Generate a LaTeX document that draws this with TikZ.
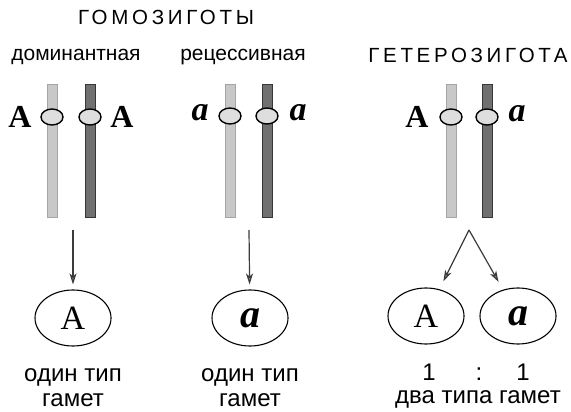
\documentclass[tikz,border=0pt]{standalone}
\usepackage{fontspec}
\setmainfont{Liberation Sans}
\newfontfamily\allelefont{Liberation Serif}
\usepackage{tikz}
\usetikzlibrary{
  arrows.meta,
  positioning,
  shapes.geometric
}
\definecolor{barlight}{RGB}{200,200,200}
\definecolor{barlightedge}{RGB}{165,165,165}
\definecolor{bardark}{RGB}{112,112,112}
\definecolor{bardarkedge}{RGB}{55,55,55}
\definecolor{arrowgray}{RGB}{60,60,60}
\tikzset{
  geneBarLight/.style={
    rectangle,
    draw=barlightedge,
    fill=barlight,
    line width=1pt,
    minimum width=10pt,
    minimum height=132pt,
    inner sep=0pt
  },
  geneBarDark/.style={
    rectangle,
    draw=bardarkedge,
    fill=bardark,
    line width=1pt,
    minimum width=10pt,
    minimum height=132pt,
    inner sep=0pt
  },
  geneLocus/.style={
    ellipse,
    draw=black,
    fill=black!13,
    line width=1.4pt,
    minimum width=22pt,
    minimum height=16pt,
    inner sep=0pt
  },
  alleleBig/.style={
    font=\allelefont\fontsize{32}{32}\selectfont\bfseries,
    inner sep=0pt
  },
  alleleSmall/.style={
    font=\allelefont\fontsize{34}{34}\selectfont\bfseries\itshape,
    inner sep=0pt
  },
  gamete/.style={
    ellipse,
    draw=black,
    line width=1.1pt,
    minimum width=76pt,
    minimum height=56pt,
    inner sep=0pt,
    font=\allelefont\fontsize{34}{34}\selectfont
  },
  gameteSmall/.style={
    gamete,
    font=\allelefont\fontsize{40}{40}\selectfont\bfseries\itshape
  },
  headText/.style={
    font=\fontsize{20.5}{22}\selectfont\addfontfeature{LetterSpace=18},
    inner sep=0pt
  },
  typeText/.style={
    font=\fontsize{21}{24}\selectfont,
    inner sep=0pt
  },
  noteText/.style={
    font=\fontsize{24}{25}\selectfont,
    anchor=base,
    inner sep=0pt
  },
  gameteArrow/.style={
    -{Stealth[length=11pt,width=7pt,inset=3pt,fill=black!45]},
    line width=1.2pt,
    draw=arrowgray
  }
}

\begin{document}
\begin{tikzpicture}[x=1pt,y=-1pt]
  \useasboundingbox (0,0) rectangle (571,412);

  % headings
  \node[headText] (homo) at (166,17) {ГОМОЗИГОТЫ};
  \node[typeText] (dom) at (76,57) {доминантная};
  \node[typeText] (rec) at (243,57) {рецессивная};
  \node[headText] (hetero) at (468,55) {ГЕТЕРОЗИГОТА};

  % dominant pair
  \node[geneBarLight] (domL) at (52,151) {};
  \node[geneBarDark] (domD) at (90,151) {};
  \node[geneLocus] (domLocL) at (52,117) {};
  \node[geneLocus] (domLocD) at (90,117) {};
  \node[alleleBig] (domAL) at (20,117) {A};
  \node[alleleBig] (domAR) at (122,117) {A};

  % recessive pair
  \node[geneBarLight] (recL) at (230,151) {};
  \node[geneBarDark] (recD) at (267,151) {};
  \node[geneLocus] (recLocL) at (230,116) {};
  \node[geneLocus] (recLocD) at (267,116) {};
  \node[alleleSmall] (recAL) at (200,113) {a};
  \node[alleleSmall] (recAR) at (298,113) {a};

  % hetero pair
  \node[geneBarLight] (hetL) at (451,151) {};
  \node[geneBarDark] (hetD) at (487,151) {};
  \node[geneLocus] (hetLocL) at (451,117) {};
  \node[geneLocus] (hetLocD) at (487,117) {};
  \node[alleleBig] (hetA) at (417,117) {A};
  \node[alleleSmall] (hetB) at (517,114) {a};

  % gametes
  \node[gamete] (gamDom) at (73,318) {A};
  \node[gameteSmall] (gamRec) at (250,318) {a};
  \node[gamete] (gamHetA) at (426,316) {A};
  \node[gameteSmall] (gamHetB) at (518,316) {a};

  \coordinate (forkDom) at (73,230);
  \coordinate (forkRec) at (249,230);
  \coordinate (forkHet) at (469,230);

  \draw[gameteArrow, shorten >=5pt] (forkDom) -- (gamDom);
  \draw[gameteArrow, shorten >=5pt] (forkRec) -- (gamRec);
  \draw[gameteArrow, shorten >=9pt] (forkHet) -- (gamHetA);
  \draw[gameteArrow, shorten >=9pt] (forkHet) -- (gamHetB);

  % captions
  \node[noteText] (capDom) at (73,381) {один тип};
  \node[noteText] (capDom2) at (73,406) {гамет};
  \node[noteText] (capRec) at (250,381) {один тип};
  \node[noteText] (capRec2) at (250,406) {гамет};
  \node[noteText] (ratioA) at (429,380) {1};
  \node[noteText] (ratioC) at (479,380) {:};
  \node[noteText] (ratioB) at (523,380) {1};
  \node[noteText] (capHet) at (478,403) {два типа гамет};
\end{tikzpicture}
\end{document}
